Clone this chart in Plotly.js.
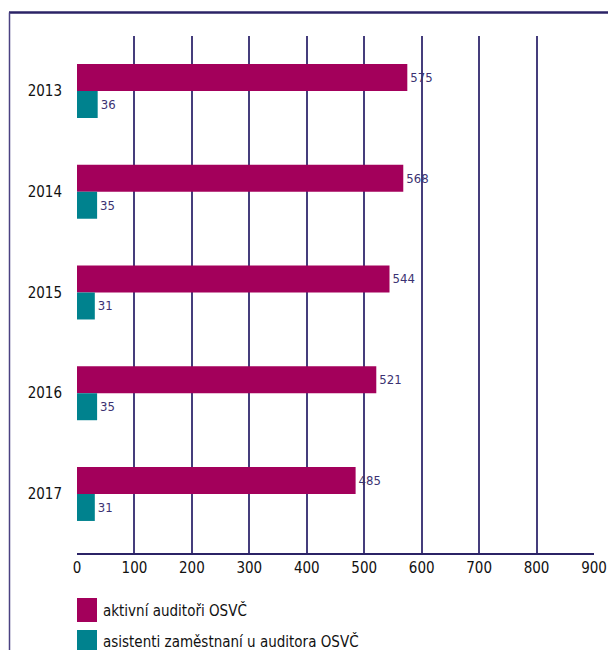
<!DOCTYPE html>
<html><head><meta charset="utf-8">
<script src="https://cdn.plot.ly/plotly-3.0.1.min.js"></script>
<style>html,body{margin:0;padding:0;background:#fff;}#c{width:608px;height:650px;}</style>
</head><body><div id="c"></div>
<script>
const years = ['2013','2014','2015','2016','2017'];
const auditori = [575, 568, 544, 521, 485];
const asistenti = [36, 35, 31, 35, 31];
const seriesNames = ['aktivní auditoři OSVČ', 'asistenti zaměstnaní u auditora OSVČ'];
const colors = ['#A3005B', '#00828E'];

const FONT = '"DejaVu Sans Condensed", "Liberation Sans Narrow", Arial, sans-serif';
const L = 77, R = 14, T = 36, B = 97, W = 608, H = 650;
const pw = W - L - R, ph = H - T - B;
const px = x => (x - L) / pw;
const py = y => (H - B - y) / ph;

const traces = [auditori, asistenti].map((vals, i) => ({
  type: 'bar', orientation: 'h', name: seriesNames[i],
  y: years, x: vals, text: vals.map(String), textposition: 'outside',
  textfont: {family: FONT, size: 13, color: '#3b3272'},
  marker: {color: colors[i]}, cliponaxis: false, hoverinfo: 'none'
}));

const shapes = [
  {type:'line', xref:'paper', yref:'paper', x0:px(9), x1:px(610), y0:py(12.5), y1:py(12.5), line:{color:'#2b2366', width:2.5}},
  {type:'line', xref:'paper', yref:'paper', x0:px(9.5), x1:px(9.5), y0:py(12.5), y1:py(652), line:{color:'#4a4282', width:1.5}},
  {type:'rect', xref:'paper', yref:'paper', x0:px(77), x1:px(97), y0:py(598), y1:py(622), fillcolor:colors[0], line:{width:0}},
  {type:'rect', xref:'paper', yref:'paper', x0:px(77), x1:px(97), y0:py(630), y1:py(654), fillcolor:colors[1], line:{width:0}}
];
const annotations = seriesNames.map((n, i) => ({
  xref:'paper', yref:'paper', x:px(101), y:py(i === 0 ? 610 : 641), xanchor:'left', yanchor:'middle',
  text:n, showarrow:false, font:{family:FONT, size:15, color:'#111'}
}));

const layout = {
  width: W, height: H, margin: {l: L, r: R, t: T, b: B},
  paper_bgcolor: '#fff', plot_bgcolor: '#fff',
  barmode: 'group', bargap: 0.464, bargroupgap: 0,
  showlegend: false,
  xaxis: {range: [0, 900], dtick: 100, tick0: 0, showgrid: true, gridcolor: '#453d7c', gridwidth: 2,
          showline: true, linecolor: '#2b2366', linewidth: 2, zeroline: false, ticks: '',
          tickfont: {family: FONT, size: 15, color: '#111'}, fixedrange: true},
  yaxis: {type: 'category', categoryarray: years, range: [4.586, -0.546], showgrid: false, zeroline: false,
          showline: false, ticks: '', ticklabelstandoff: 14,
          tickfont: {family: FONT, size: 15, color: '#111'}, fixedrange: true},
  shapes: shapes, annotations: annotations
};
Plotly.newPlot('c', traces, layout, {displayModeBar: false, staticPlot: true});
</script></body></html>
